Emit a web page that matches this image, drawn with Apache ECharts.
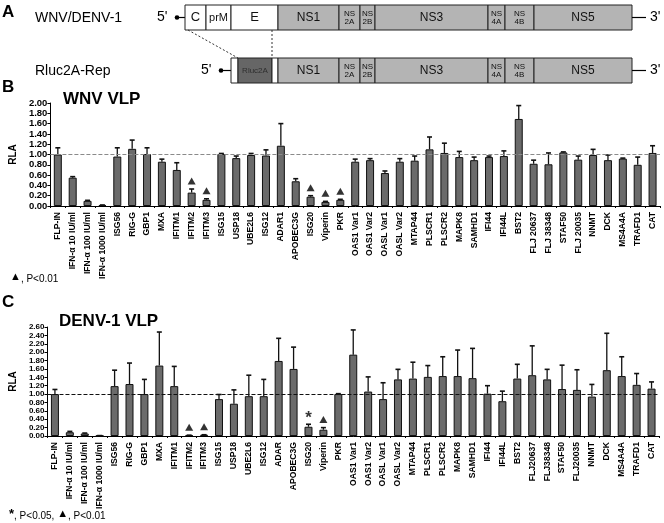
<!DOCTYPE html>
<html><head><meta charset="utf-8">
<script src="https://cdn.jsdelivr.net/npm/echarts/dist/echarts.min.js"></script>
<style>html,body{margin:0;padding:0;background:#fff}#c{width:664px;height:523px}</style>
</head><body><div id="c"></div>
<script>
// ---------- data ----------
const categoriesB = ['FLP-IN','IFN-\u03b1 10 IU/ml','IFN-\u03b1 100 IU/ml','IFN-\u03b1 1000 IU/ml','ISG56','RIG-G','GBP1','MXA','IFITM1','IFITM2','IFITM3','ISG15','USP18','UBE2L6','ISG12','ADAR1','APOBEC3G','ISG20','Viperin','PKR','OAS1 Var1','OAS1 Var2','OASL Var1','OASL Var2','MTAP44','PLSCR1','PLSCR2','MAPK8','SAMHD1','IFI44','IFI44L','BST2','FLJ 20637','FLJ 38348','STAF50','FLJ 20035','NNMT','DCK','MS4A4A','TRAFD1','CAT'];
const categoriesC = ['FLP-IN','IFN-\u03b1 10 IU/ml','IFN-\u03b1 100 IU/ml','IFN-\u03b1 1000 IU/ml','ISG56','RIG-G','GBP1','MXA','IFITM1','IFITM2','IFITM3','ISG15','USP18','UBE2L6','ISG12','ADAR','APOBEC3G','ISG20','Viperin','PKR','OAS1 Var1','OAS1 Var2','OASL Var1','OASL Var2','MTAP44','PLSCR1','PLSCR2','MAPK8','SAMHD1','IFI44','IFI44L','BST2','FLJ20637','FLJ38348','STAF50','FLJ20035','NNMT','DCK','MS4A4A','TRAFD1','CAT'];
const wnvMean  = [1.00,0.55,0.10,0.02,0.96,1.11,1.01,0.86,0.70,0.26,0.12,1.01,0.93,0.99,0.98,1.17,0.48,0.18,0.08,0.12,0.86,0.89,0.64,0.86,0.88,1.10,1.03,0.95,0.89,0.95,0.97,1.69,0.82,0.81,1.04,0.90,0.99,0.89,0.92,0.80,1.03];
const wnvUpper = [1.13,0.57,0.11,0.02,1.13,1.28,1.13,0.91,0.84,0.33,0.14,1.02,0.97,1.02,1.09,1.60,0.53,0.20,0.09,0.13,0.91,0.92,0.68,0.92,0.97,1.34,1.22,1.06,0.95,0.97,1.07,1.95,0.89,1.03,1.05,0.97,1.10,0.99,0.93,0.95,1.17];
const denvMean  = [1.00,0.09,0.06,0.01,1.19,1.24,1.00,1.68,1.19,0.02,0.03,0.88,0.77,0.95,0.95,1.79,1.60,0.22,0.15,1.00,1.94,1.06,0.88,1.35,1.37,1.41,1.43,1.43,1.38,1.01,0.83,1.37,1.45,1.35,1.12,1.10,0.94,1.57,1.43,1.22,1.13];
const denvUpper = [1.11,0.11,0.07,0.01,1.57,1.74,1.35,2.48,1.66,0.02,0.03,0.99,1.10,1.45,1.35,2.33,2.12,0.28,0.20,1.01,2.53,1.41,1.27,1.59,1.76,1.68,1.89,2.05,2.09,1.20,1.07,1.71,2.15,1.59,1.69,1.58,1.23,2.45,1.89,1.49,1.29];
const wnvSig  = {9:'tri',10:'tri',17:'tri',18:'tri',19:'tri'};
const denvSig = {9:'tri',10:'tri',17:'star',18:'tri'};
const referenceLevel = 1.0;

// ---------- helpers ----------
const FONT = '"Liberation Sans", Arial, sans-serif';
function errRender(params, api){
  const i = api.value(0), v = api.value(1), u = api.value(2);
  const p0 = api.coord([i, v]), p1 = api.coord([i, u]);
  const cap = 2.5;
  return {type:'group', children:[
    {type:'line', shape:{x1:p0[0],y1:p0[1],x2:p1[0],y2:p1[1]}, style:{stroke:'#111',lineWidth:1.3}},
    {type:'line', shape:{x1:p1[0]-cap,y1:p1[1],x2:p1[0]+cap,y2:p1[1]}, style:{stroke:'#111',lineWidth:1.6}}
  ]};
}
function makeSeries(idx, mean, upper, sig, dashColor){
  const errData = mean.map((v,i)=>[i, v, upper[i]]);
  const triData = [], starData = [];
  Object.keys(sig).forEach(k=>{
    const i = +k;
    (sig[k]==='tri' ? triData : starData).push([i, upper[i]]);
  });
  return [
    {type:'bar', xAxisIndex:idx, yAxisIndex:idx, data:mean, barWidth:8,
     itemStyle:{color:'#6b6b6b', borderColor:'#111', borderWidth:1}, silent:true,
     markLine:{silent:true, symbol:'none', label:{show:false},
       lineStyle:{type:[4,2], color:dashColor, width:1.2}, data:[{yAxis:referenceLevel}]}},
    {type:'custom', xAxisIndex:idx, yAxisIndex:idx, data:errData, renderItem:errRender,
     encode:{x:0, y:[1,2]}, silent:true, z:3},
    {type:'scatter', xAxisIndex:idx, yAxisIndex:idx, data:triData, symbol:'triangle',
     symbolSize:[8,7], symbolOffset:[0,-8], itemStyle:{color:'#000'}, silent:true, z:4},
    {type:'scatter', xAxisIndex:idx, yAxisIndex:idx, data:starData, symbolSize:1,
     itemStyle:{color:'rgba(0,0,0,0)'}, silent:true, z:4,
     label:{show:true, formatter:'*', position:'inside', offset:[0,-6], fontSize:17, fontWeight:'bold', color:'#000', fontFamily:FONT}}
  ];
}
function xAx(idx, cats){
  return {type:'category', gridIndex:idx, data:cats,
    axisLine:{lineStyle:{color:'#000', width:1}},
    axisTick:{show:true, length:2, lineStyle:{color:'#000'}},
    axisLabel:{rotate:90, interval:0, fontSize:8.6, fontWeight:'bold', color:'#000', margin:6, fontFamily:FONT}};
}
function yAx(idx, max, fs){
  return {type:'value', gridIndex:idx, min:0, max:max, interval:0.2,
    name:'RLA', nameLocation:'middle', nameGap:24, nameRotate:90,
    nameTextStyle:{fontSize:10, fontWeight:'bold', color:'#000', fontFamily:FONT},
    axisLine:{show:true, lineStyle:{color:'#000'}},
    axisTick:{show:true, length:3, lineStyle:{color:'#000'}},
    splitLine:{show:false},
    axisLabel:{formatter:v=>v.toFixed(2), fontSize:fs, lineHeight:fs, hideOverlap:false, showMinLabel:true, showMaxLabel:true,
      fontWeight:'bold', color:'#000', margin:3, fontFamily:FONT}};
}

// ---------- panel A schematic ----------
const topSegs = [['C',185,206,'#fff',13],['prM',206,231,'#fff',11],['E',231,278,'#fff',13],['NS1',278,339,'#b4b4b4',12],['NS\n2A',339,360,'#b4b4b4',8],['NS\n2B',360,375,'#b4b4b4',8],['NS3',375,488,'#b4b4b4',12],['NS\n4A',488,505,'#b4b4b4',8],['NS\n4B',505,534,'#b4b4b4',8],['NS5',534,632,'#b4b4b4',12]];
const botSegs = [['',231,238,'#fff',8],['Rluc2A',238,272,'#666',8],['',272,278,'#fff',8]].concat(topSegs.slice(3));
const g = [];
function row(segs, y0, y1, fiveX, dotX){
  g.push({type:'text', style:{text:"5'", x:fiveX, y:(y0+y1)/2, textVerticalAlign:'middle', font:'14px '+FONT, fill:'#000'}});
  g.push({type:'line', shape:{x1:dotX, y1:(y0+y1)/2, x2:segs[0][1], y2:(y0+y1)/2}, style:{stroke:'#000', lineWidth:1.2}});
  g.push({type:'circle', shape:{cx:dotX, cy:(y0+y1)/2, r:2.3}, style:{fill:'#000'}});
  segs.forEach(s=>{
    g.push({type:'rect', shape:{x:s[1], y:y0, width:s[2]-s[1], height:y1-y0}, style:{fill:s[3], stroke:'#222', lineWidth:1}});
    if (s[0]) g.push({type:'text', style:{text:s[0], x:(s[1]+s[2])/2, y:(y0+y1)/2, textAlign:'center', textVerticalAlign:'middle',
      font:s[4]+'px '+FONT, lineHeight:s[4]<10?8:s[4], fill:s[0]==='Rluc2A'?'#2e2e2e':'#111'}});
  });
  const end = segs[segs.length-1][2];
  g.push({type:'line', shape:{x1:end, y1:(y0+y1)/2, x2:end+14, y2:(y0+y1)/2}, style:{stroke:'#000', lineWidth:1.2}});
  g.push({type:'text', style:{text:"3'", x:end+18, y:(y0+y1)/2, textVerticalAlign:'middle', font:'14px '+FONT, fill:'#000'}});
}
row(topSegs, 5, 30, 157, 177);
row(botSegs, 58, 83, 201, 221);
g.push({type:'line', shape:{x1:188,y1:30,x2:238,y2:58}, style:{stroke:'#333', lineWidth:1, lineDash:[2,2]}});
g.push({type:'line', shape:{x1:272,y1:30,x2:272,y2:58}, style:{stroke:'#333', lineWidth:1, lineDash:[2,2]}});
g.push({type:'text', style:{text:'A', x:2, y:12, textVerticalAlign:'middle', font:'bold 17px '+FONT, fill:'#000'}});
g.push({type:'text', style:{text:'WNV/DENV-1', x:35, y:18, textVerticalAlign:'middle', font:'14px '+FONT, fill:'#000'}});
g.push({type:'text', style:{text:'Rluc2A-Rep', x:35, y:71, textVerticalAlign:'middle', font:'14px '+FONT, fill:'#000'}});
g.push({type:'text', style:{text:'B', x:2, y:87, textVerticalAlign:'middle', font:'bold 17px '+FONT, fill:'#000'}});
g.push({type:'text', style:{text:'C', x:2, y:302, textVerticalAlign:'middle', font:'bold 17px '+FONT, fill:'#000'}});
g.push({type:'text', style:{text:'WNV VLP', x:63, y:99, textVerticalAlign:'middle', font:'bold 17px '+FONT, fill:'#000'}});
g.push({type:'text', style:{text:'DENV-1 VLP', x:59, y:321, textVerticalAlign:'middle', font:'bold 17px '+FONT, fill:'#000'}});
g.push({type:'text', style:{text:'{t|\u25B2}, P<0.01', x:10, y:279, textVerticalAlign:'middle', font:'10px '+FONT, fill:'#000',
  rich:{t:{fontSize:11, verticalAlign:'bottom', padding:[0,0,4,0]}}}});
g.push({type:'text', style:{text:'{s|*}, P<0.05, {t|\u25B2}, P<0.01', x:9, y:516, textVerticalAlign:'middle', font:'10px '+FONT, fill:'#000',
  rich:{s:{fontSize:13, fontWeight:'bold', padding:[0,0,4,0]}, t:{fontSize:11, padding:[0,0,4,0]}}}});

const chart = echarts.init(document.getElementById('c'), null, {renderer:'canvas'});
chart.setOption({
  animation:false,
  backgroundColor:'#fff',
  textStyle:{fontFamily:FONT},
  grid:[{left:35, top:103, width:625, height:103}, {left:33, top:327, width:626, height:109}],
  xAxis:[xAx(0, categoriesB), xAx(1, categoriesC)],
  yAxis:[yAx(0, 2.0, 9.5), yAx(1, 2.6, 8)],
  series:[].concat(makeSeries(0, wnvMean, wnvUpper, wnvSig, '#8a8a8a'), makeSeries(1, denvMean, denvUpper, denvSig, '#111')),
  graphic:g
});
</script></body></html>
